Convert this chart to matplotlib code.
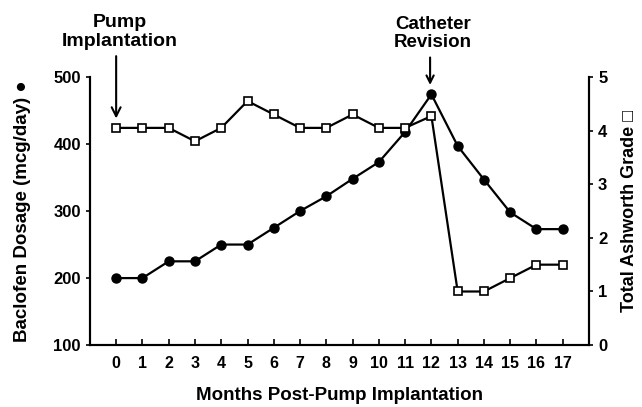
import matplotlib.pyplot as plt

plt.rcParams['font.family'] = ['Liberation Sans', 'DejaVu Sans']
plt.rcParams['font.weight'] = 'bold'
plt.rcParams['axes.labelweight'] = 'bold'

months = list(range(18))
baclofen = [200, 200, 225, 225, 250, 250, 275, 300, 322, 348, 373, 418, 474,
            397, 347, 298, 273, 273]
ashworth = [4.05, 4.05, 4.05, 3.8, 4.05, 4.55, 4.3, 4.05, 4.05, 4.3, 4.05, 4.05,
            4.27, 1.0, 1.0, 1.25, 1.5, 1.5]
month_labels = [str(m) for m in months]


def main():
    fig = plt.figure(figsize=(6.42, 4.07), dpi=100)
    ax = fig.add_axes([0.140, 0.152, 0.7775, 0.659])
    ax2 = ax.twinx()

    ax.plot(months, baclofen, color='black', lw=1.6, marker='o', ms=6.5,
            zorder=3)
    ax2.plot(months, ashworth, color='black', lw=1.6, marker='s', ms=6,
             markerfacecolor='white', markeredgewidth=1.2, zorder=3)

    ax.set_xlim(-1, 18)
    ax.set_ylim(100, 500)
    ax2.set_ylim(0, 5)
    ax.set_xticks(months)
    ax.set_xticklabels(month_labels)
    ax.set_yticks([100, 200, 300, 400, 500])
    ax2.set_yticks([0, 1, 2, 3, 4, 5])

    for a in (ax, ax2):
        a.spines['top'].set_visible(False)
        for s in a.spines.values():
            s.set_linewidth(1.5)
    ax.tick_params(axis='x', direction='in', length=4, width=1.2, labelsize=11.5, pad=8)
    ax.tick_params(axis='y', direction='out', length=3, width=1.2, labelsize=12)
    ax2.tick_params(axis='y', direction='out', length=3, width=1.2, labelsize=12)

    ax.set_xlabel('Months Post-Pump Implantation', fontsize=13.5, labelpad=11)
    ax.set_ylabel('Baclofen Dosage (mcg/day) \u25cf', fontsize=13.5, labelpad=16)
    ax2.set_ylabel('Total Ashworth Grade \u25a1', fontsize=13, labelpad=10)

    # event labels and arrows
    ax.text(0.15, 567, 'Pump\nImplantation', ha='center', va='center',
            fontsize=14, fontweight='bold', linespacing=1.1, clip_on=False)
    ax.annotate('', xy=(0, 438), xytext=(0, 531), annotation_clip=False,
                arrowprops=dict(arrowstyle='->', color='black', lw=1.5,
                                shrinkA=0, shrinkB=0, mutation_scale=16))
    ax.text(12.05, 565, 'Catheter\nRevision', ha='center', va='center',
            fontsize=13.5, fontweight='bold', linespacing=1.1, clip_on=False)
    ax.annotate('', xy=(11.95, 488), xytext=(11.95, 529), annotation_clip=False,
                arrowprops=dict(arrowstyle='->', color='black', lw=1.5,
                                shrinkA=0, shrinkB=0, mutation_scale=13))

    plt.savefig('out.png', dpi=100)


if __name__ == "__main__":
    main()
